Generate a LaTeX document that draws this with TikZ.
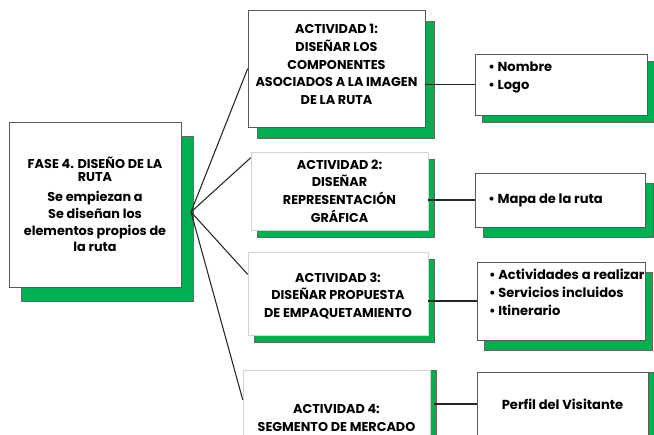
\documentclass[tikz,border=0pt]{standalone}
\usepackage{fontspec}
\setmainfont{Poppins}
\usetikzlibrary{shadows, positioning}
\definecolor{verde}{RGB}{0,176,80}
\definecolor{gris}{RGB}{205,215,205}
\tikzstyle{caja} = [rectangle, draw=black!65, fill=white, align=center, inner sep=2pt, font=\bfseries\fontsize{9.6}{13.2}\selectfont]
\tikzstyle{lista} = [align=left, inner sep=0pt, font=\bfseries\fontsize{9.8}{13.8}\selectfont]
\tikzstyle{linea} = [black!85, line width=0.8pt]
\tikzset{sombra/.style 2 args={drop shadow={shadow xshift=#1, shadow yshift=#2, fill=verde, draw=black!60, opacity=1}}}

\begin{document}
\begin{tikzpicture}[x=0.75pt, y=-0.75pt]
	\useasboundingbox (0,0) rectangle (654,435);
	% fase
	\node (fase) [caja, sombra={9pt}{-10.5pt}, minimum width=129pt, minimum height=123.75pt, font=\bfseries\fontsize{9.6}{12.6}\selectfont] at (95,204.5) {FASE 4. DISEÑO DE LA\\[-2.8pt]RUTA\\[2.4pt]Se empiezan a\\Se diseñan los\\elementos propios de\\la ruta};
	% actividades
	\node (a1) [caja, sombra={6.75pt}{-8.25pt}, minimum width=132.75pt, minimum height=87.75pt] at (336.5,68.5) {ACTIVIDAD 1:\\DISEÑAR LOS\\COMPONENTES\\ASOCIADOS A LA IMAGEN\\DE LA RUTA\\[-7pt]};
	\node (a2) [caja, draw=gris, sombra={4.5pt}{-5.25pt}, minimum width=132.75pt, minimum height=58.5pt] at (339.5,191) {ACTIVIDAD 2:\\DISEÑAR\\REPRESENTACIÓN\\GRÁFICA};
	\node (a3) [caja, draw=gris, sombra={4.5pt}{-5.25pt}, minimum width=135pt, minimum height=62.25pt] at (338,293.5) {\rule{0pt}{0pt}\\[-2.5pt]ACTIVIDAD 3:\\DISEÑAR PROPUESTA\\DE EMPAQUETAMIENTO};
	\node (a4) [caja, draw=gris, sombra={4.5pt}{0pt}, minimum width=140.25pt, minimum height=72pt] at (336.5,418) {ACTIVIDAD 4:\\SEGMENTO DE MERCADO};
	% resultados
	\node (r1) [caja, sombra={5.25pt}{-5.25pt}, minimum width=129pt, minimum height=45.75pt] at (561,84.5) {};
	\node (r2) [caja, sombra={6pt}{-7.5pt}, minimum width=127.5pt, minimum height=40.5pt] at (560,200) {};
	\node (r3) [caja, sombra={5.25pt}{-7.5pt}, minimum width=126pt, minimum height=58.5pt] at (561,301) {};
	\node (r4) [caja, sombra={4.5pt}{0pt}, minimum width=128.25pt, minimum height=48pt, font=\bfseries\fontsize{9.8}{12}\selectfont] at (562.5,404) {Perfil del Visitante};
	\node (t1) [lista, anchor=north west] at ([xshift=10pt, yshift=-5.5pt]r1.north west) {• Nombre\\• Logo};
	\node (t2) [lista, anchor=west] at ([xshift=10pt]r2.west) {• Mapa de la ruta};
	\node (t3) [lista, anchor=north west] at ([xshift=9pt, yshift=-5pt]r3.north west) {• Actividades a realizar\\• Servicios incluidos\\• Itinerario};
	% conectores
	\coordinate (hub) at (191,212);
	\draw [linea] (hub) -- (a1.west);
	\draw [linea] (hub) -- ([yshift=-4.5pt]a2.north west);
	\draw [linea] (hub) -- ([yshift=-17pt]a3.north west);
	\draw [linea] (hub) -- ([yshift=-22.5pt]a4.north west);
	\draw [linea] (a1.east |- r1.west) -- (r1.west);
	\draw [linea] (a2.east |- r2.west) -- (r2.west);
	\draw [linea] (a3.east |- r3.west) -- (r3.west);
	\draw [linea] ([xshift=2.5pt]a4.east |- r4.west) -- (r4.west);
\end{tikzpicture}
\end{document}
